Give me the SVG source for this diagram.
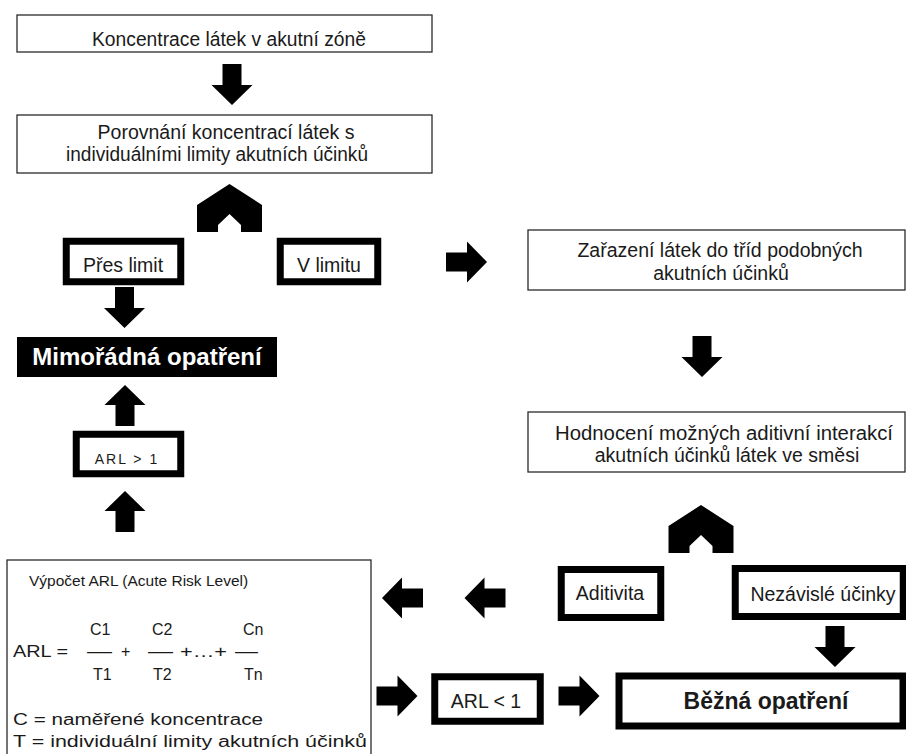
<svg xmlns="http://www.w3.org/2000/svg" xmlns:xlink="http://www.w3.org/1999/xlink" width="906" height="754" viewBox="0 0 906 754">
<style>
text{font-family:"Liberation Sans",Arial,"Noto Sans",sans-serif;fill:#1a1a1a}
.t{font-size:19.5px;text-anchor:middle}
.s{font-size:16px}
.thin{fill:#fff;stroke:#2a2a2a;stroke-width:1.3}
.thick{fill:#fff;stroke:#000;stroke-width:7}
.arr{fill:#000}
.bold{font-weight:bold;text-anchor:middle}
</style>
<defs>
<path id="arrow" d="M-9.5,-41 L9.5,-41 L9.5,-20 L20.5,-20 L0,0 L-20.5,-20 L-9.5,-20 Z"/>
<path id="fork" d="M0,0 L32.5,21 L32.5,48 L11.5,48 L11.5,41 L0,30 L-11.5,41 L-11.5,48 L-32.5,48 L-32.5,21 Z"/>
</defs>
<rect width="906" height="754" fill="#fff"/>

<g id="n-koncentrace">
<rect class="thin" x="17" y="15" width="415" height="37"/>
<text class="t" x="229" y="46" textLength="274" lengthAdjust="spacingAndGlyphs">Koncentrace látek v akutní zóně</text>
</g>
<g id="n-porovnani">
<rect class="thin" x="17" y="115" width="415" height="58"/>
<text class="t" x="226" y="139">Porovnání koncentrací látek s</text>
<text class="t" x="217" y="161" textLength="302" lengthAdjust="spacingAndGlyphs">individuálními limity akutních účinků</text>
</g>
<g id="n-pres-limit">
<rect class="thick" x="66.25" y="241.25" width="114.5" height="40.5" stroke-width="6.5"/>
<text class="t" x="123" y="272">Přes limit</text>
</g>
<g id="n-v-limitu">
<rect class="thick" x="280.25" y="241.25" width="97.5" height="40.5" stroke-width="6.5"/>
<text class="t" x="329" y="272">V limitu</text>
</g>
<g id="n-mimoradna">
<rect x="17" y="337" width="260" height="40" fill="#000"/>
<text class="bold" x="147" y="365" font-size="24" style="fill:#fff">Mimořádná opatření</text>
</g>
<g id="n-arl-gt">
<rect class="thick" x="76.25" y="434.25" width="104.5" height="39.5" stroke-width="6.5"/>
<text x="127" y="464" font-size="14" text-anchor="middle" letter-spacing="2">ARL  &gt; 1</text>
</g>
<g id="n-vypocet">
<rect class="thin" x="7" y="560" width="364" height="200"/>
<text x="29" y="586" font-size="15.5">Výpočet ARL (Acute Risk Level)</text>
<text class="s" x="90" y="635">C1</text>
<text class="s" x="152" y="635">C2</text>
<text class="s" x="243" y="635">Cn</text>
<text class="s" x="13" y="657" textLength="55" lengthAdjust="spacingAndGlyphs">ARL =</text>
<text class="s" x="87" y="657" textLength="25" lengthAdjust="spacingAndGlyphs">—</text>
<text class="s" x="121" y="657">+</text>
<text class="s" x="148" y="657" textLength="25" lengthAdjust="spacingAndGlyphs">—</text>
<text class="s" x="180" y="657" textLength="47" lengthAdjust="spacingAndGlyphs">+…+</text>
<text class="s" x="235" y="657" textLength="23" lengthAdjust="spacingAndGlyphs">—</text>
<text class="s" x="93" y="680">T1</text>
<text class="s" x="153" y="680">T2</text>
<text class="s" x="244" y="680">Tn</text>
<text class="s" x="13" y="725" textLength="250" lengthAdjust="spacingAndGlyphs">C = naměřené koncentrace</text>
<text class="s" x="13" y="747" textLength="354" lengthAdjust="spacingAndGlyphs">T = individuální limity akutních účinků</text>
</g>
<g id="n-zarazeni">
<rect class="thin" x="528" y="230" width="377" height="60"/>
<text class="t" x="720" y="257">Zařazení látek do tříd podobných</text>
<text class="t" x="721" y="280">akutních účinků</text>
</g>
<g id="n-hodnoceni">
<rect class="thin" x="528" y="412" width="377" height="60"/>
<text class="t" x="724" y="440" textLength="338" lengthAdjust="spacingAndGlyphs">Hodnocení možných aditivní interakcí</text>
<text class="t" x="727" y="462">akutních účinků látek ve směsi</text>
</g>
<g id="n-aditivita">
<rect class="thick" x="561.25" y="569.5" width="99.5" height="48"/>
<text class="t" x="610" y="600">Aditivita</text>
</g>
<g id="n-nezavisle">
<rect class="thick" x="735.25" y="568.5" width="168" height="48"/>
<text class="t" x="823" y="601">Nezávislé účinky</text>
</g>
<g id="n-arl-lt">
<rect class="thick" x="434.75" y="676.75" width="105.5" height="44.5" stroke-width="7.5"/>
<text class="t" x="486" y="708">ARL &lt; 1</text>
</g>
<g id="n-bezna">
<rect class="thick" x="619" y="676" width="284" height="50" stroke-width="8"/>
<text class="bold" x="766" y="709" font-size="23">Běžná opatření</text>
</g>

<g id="connectors" class="arr">
<use xlink:href="#arrow" transform="translate(232,105)"/>
<use xlink:href="#fork" transform="translate(229.5,184)"/>
<use xlink:href="#arrow" transform="translate(124.5,328)"/>
<use xlink:href="#arrow" transform="translate(125,385) rotate(180)"/>
<use xlink:href="#arrow" transform="translate(125,491) rotate(180)"/>
<use xlink:href="#arrow" transform="translate(487,262) rotate(-90)"/>
<use xlink:href="#arrow" transform="translate(702,377)"/>
<use xlink:href="#fork" transform="translate(701,505)"/>
<use xlink:href="#arrow" transform="translate(382,598) rotate(90)"/>
<use xlink:href="#arrow" transform="translate(464.5,598) rotate(90)"/>
<use xlink:href="#arrow" transform="translate(417.5,696) rotate(-90)"/>
<use xlink:href="#arrow" transform="translate(599.5,696) rotate(-90)"/>
<use xlink:href="#arrow" transform="translate(835,667)"/>
</g>
</svg>
